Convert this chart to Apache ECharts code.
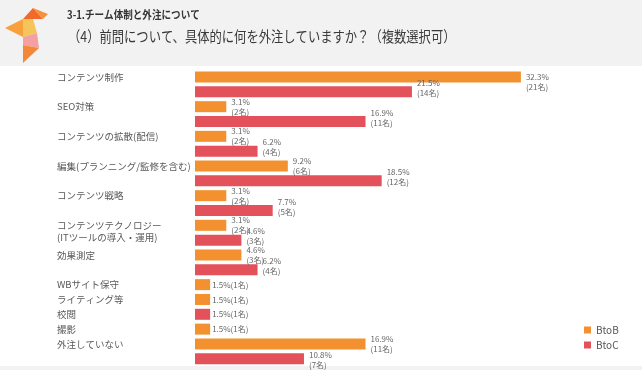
<!DOCTYPE html>
<html><head><meta charset="utf-8">
<script src="https://cdn.jsdelivr.net/npm/echarts@6/dist/echarts.min.js"></script>
<style>html,body{margin:0;padding:0;background:#fff}#c{width:642px;height:370px}</style>
</head><body><div id="c"></div>
<script>
const categories = ['コンテンツ制作','SEO対策','コンテンツの拡散(配信)','編集(プランニング/監修を含む)','コンテンツ戦略','コンテンツテクノロジー\n(ITツールの導入・運用)','効果測定','WBサイト保守','ライティング等','校閲','撮影','外注していない'];
const btobPct   = [32.3, 3.1, 3.1, 9.2, 3.1, 3.1, 4.6, 1.5, 1.5, null, 1.5, 16.9];
const btobCount = [21, 2, 2, 6, 2, 2, 3, 1, 1, null, 1, 11];
const btocPct   = [21.5, 16.9, 6.2, 18.5, 7.7, 4.6, 6.2, null, null, 1.5, null, 10.8];
const btocCount = [14, 11, 4, 12, 5, 3, 4, null, null, 1, null, 7];
const seriesNames = ['BtoB', 'BtoC'];
const titleLine1 = '3-1.チーム体制と外注について';
const titleLine2 = '（4）前問について、具体的に何を外注していますか？（複数選択可）';

const FONT = '"Noto Sans CJK JP", "Noto Sans", sans-serif';
const COLORS = ['#F39131', '#E3515A'];

// build one row per bar
const slots = [];
categories.forEach((c, i) => {
  let first = true;
  const single = (btobPct[i] == null) !== (btocPct[i] == null);
  if (btobPct[i] != null) { slots.push({cat: i, kind: 'B', label: first ? c : '', single}); first = false; }
  if (btocPct[i] != null) { slots.push({cat: i, kind: 'C', label: first ? c : '', single}); first = false; }
});

function makeData(kind, pcts, counts, offsetY, dist) {
  return slots.map((s, idx) => {
    if (s.kind !== kind) return '-';
    const v = pcts[s.cat], n = counts[s.cat];
    let oy = offsetY;
    if (idx === 0) oy = 5;                 // first label sits lower in the original
    if (idx === slots.length - 1) oy = 1;  // last label sits lower in the original
    return {
      value: v,
      label: s.single
        ? {formatter: v + '%(' + n + '名)', offset: [0, 0], distance: 2}
        : {formatter: v + '%\n(' + n + '名)', offset: [0, oy], distance: dist}
    };
  });
}

const chart = echarts.init(document.getElementById('c'), null, {renderer: 'canvas'});
const labelStyle = {show: true, position: 'right', fontSize: 8, lineHeight: 10, color: '#666', fontFamily: FONT};

chart.setOption({
  animation: false,
  backgroundColor: '#fff',
  textStyle: {fontFamily: FONT},
  grid: {left: 195, top: 69.6, width: 403.6, height: 296.6, containLabel: false},
  xAxis: {type: 'value', min: 0, max: 40, show: false},
  yAxis: {
    type: 'category', inverse: true,
    data: slots.map((s, i) => 'r' + i),
    axisLine: {show: false}, axisTick: {show: false}, splitLine: {show: false},
    axisLabel: {
      interval: 0, align: 'left', margin: 138, fontSize: 9.5, lineHeight: 12,
      color: '#595959', fontFamily: FONT, overflow: 'none',
      formatter: (v, idx) => {
        const l = slots[idx].label;
        return l.indexOf('\n') >= 0 ? ' \n' + l : l;
      }
    }
  },
  legend: {
    data: seriesNames, orient: 'vertical', left: 584, top: 325, padding: 0,
    itemWidth: 7, itemHeight: 7, itemGap: 5, icon: 'rect',
    textStyle: {fontSize: 10, color: '#555', fontFamily: FONT}
  },
  series: [
    {name: seriesNames[0], type: 'bar', barWidth: 11, barGap: '-100%', itemStyle: {color: COLORS[0]},
     label: labelStyle, data: makeData('B', btobPct, btobCount, 0, 5)},
    {name: seriesNames[1], type: 'bar', barWidth: 11, barGap: '-100%', itemStyle: {color: COLORS[1]},
     label: labelStyle, data: makeData('C', btocPct, btocCount, -4, 5)}
  ],
  graphic: [
    {type: 'rect', shape: {x: 0, y: 0, width: 642, height: 66}, style: {fill: '#f2f2f2'}, z: -10},
    {type: 'rect', shape: {x: 0, y: 366, width: 642, height: 4}, style: {fill: '#f2f2f2'}, z: -10},
    {type: 'polygon', shape: {points: [[23,19],[33,8],[43,19]]}, style: {fill: '#F26A2B'}},
    {type: 'polygon', shape: {points: [[33,8],[48,14],[43,19]]}, style: {fill: '#F7903B'}},
    {type: 'polygon', shape: {points: [[5,28],[23,19],[23,37]]}, style: {fill: '#F8A03B'}},
    {type: 'polygon', shape: {points: [[23,19],[33,19],[37,33],[23,37]]}, style: {fill: '#F5C55C'}},
    {type: 'polygon', shape: {points: [[23,37],[37,33],[39,48],[23,45]]}, style: {fill: '#F4A0A2'}},
    {type: 'polygon', shape: {points: [[23,45],[39,48],[23,63]]}, style: {fill: '#F48838'}},
    {type: 'text', x: 67, y: 15, scaleX: 0.87,
     style: {text: titleLine1, fontSize: 11, fontWeight: 'bold', fill: '#333', fontFamily: FONT, verticalAlign: 'middle', align: 'left'}},
    {type: 'text', x: 68, y: 36, scaleX: 0.82,
     style: {text: titleLine2, fontSize: 15, fill: '#3a3a3a', fontFamily: FONT, verticalAlign: 'middle', align: 'left'}}
  ]
});
</script>
</body></html>
